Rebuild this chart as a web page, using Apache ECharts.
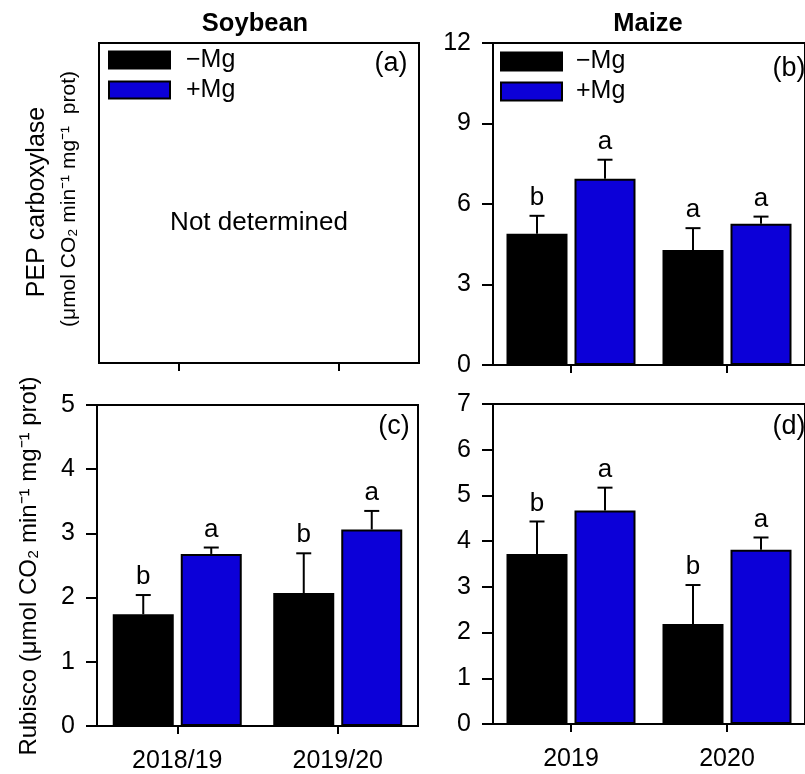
<!DOCTYPE html>
<html><head><meta charset="utf-8">
<script src="https://cdn.jsdelivr.net/npm/echarts@6/dist/echarts.min.js"></script>
<style>html,body{margin:0;padding:0;background:#fff}#c{width:805px;height:774px}</style>
</head><body><div id="c"></div>
<script>
// ---- data ----
const soyYears = ['2018/19', '2019/20'];
const maizeYears = ['2019', '2020'];
const seriesNames = ['\u2212Mg', '+Mg'];

// (b) Maize PEP carboxylase
const pepMaizeMinus = [4.89, 4.29];
const pepMaizeMinusSE = [0.67, 0.81];
const pepMaizeMinusLetters = ['b', 'a'];
const pepMaizePlus = [6.94, 5.26];
const pepMaizePlusSE = [0.71, 0.27];
const pepMaizePlusLetters = ['a', 'a'];

// (c) Soybean Rubisco
const rubSoyMinus = [1.74, 2.07];
const rubSoyMinusSE = [0.30, 0.62];
const rubSoyMinusLetters = ['b', 'b'];
const rubSoyPlus = [2.68, 3.06];
const rubSoyPlusSE = [0.10, 0.29];
const rubSoyPlusLetters = ['a', 'a'];

// (d) Maize Rubisco
const rubMaizeMinus = [3.72, 2.19];
const rubMaizeMinusSE = [0.71, 0.85];
const rubMaizeMinusLetters = ['b', 'b'];
const rubMaizePlus = [4.67, 3.81];
const rubMaizePlusSE = [0.50, 0.27];
const rubMaizePlusLetters = ['a', 'a'];

// axis ticks
const pepMaizeTicks = {min: 0, max: 12, interval: 3};
const rubSoyTicks = {min: 0, max: 5, interval: 1};
const rubMaizeTicks = {min: 0, max: 7, interval: 1};

// ---- style ----
const FONT = "'Liberation Sans', Arial, Helvetica, sans-serif";
const BLUE = '#0c00d8';
const BAR_W = 61;
const BAR_GAP = 7;
const OFFSET = (BAR_W + BAR_GAP) / 2;
const CAP = 15;

const chart = echarts.init(document.getElementById('c'), null, {renderer: 'canvas'});

const grids = [
  {left: 99, top: 43, width: 320, height: 320},
  {left: 493, top: 43, width: 320, height: 322},
  {left: 97, top: 405, width: 321, height: 321},
  {left: 493, top: 404, width: 320, height: 320}
].map(g => Object.assign({show: true, borderColor: '#000', borderWidth: 2, backgroundColor: 'transparent'}, g));

function xAxis(idx, data, showLabels) {
  return {
    type: 'category', gridIndex: idx, data: data,
    axisLine: {show: true, lineStyle: {color: '#000', width: 2}},
    axisTick: {show: true, alignWithLabel: true, length: 8, lineStyle: {color: '#000', width: 2}},
    axisLabel: {show: showLabels, color: '#000', fontSize: 25, fontFamily: FONT, margin: 23},
    splitLine: {show: false}
  };
}
function yAxis(idx, t, show) {
  return {
    type: 'value', gridIndex: idx, min: t.min, max: t.max, interval: t.interval,
    axisLine: {show: true, lineStyle: {color: '#000', width: 2}},
    axisTick: {show: show, length: 11, lineStyle: {color: '#000', width: 2}},
    axisLabel: {show: show, color: '#000', fontSize: 25, fontFamily: FONT, margin: 22},
    splitLine: {show: false}
  };
}

function barSeries(idx, name, data, color) {
  return {
    type: 'bar', name: name, xAxisIndex: idx, yAxisIndex: idx, data: data,
    barWidth: BAR_W, barGap: (BAR_GAP / BAR_W * 100) + '%',
    itemStyle: {color: color, borderColor: '#000', borderWidth: 2},
    emphasis: {disabled: true}, z: 2
  };
}
function errSeries(idx, means, ses, letters, side) {
  return {
    type: 'custom', xAxisIndex: idx, yAxisIndex: idx, clip: false, z: 5,
    data: means.map((m, i) => [i, m + ses[i]]),
    renderItem: function (params, api) {
      const i = params.dataIndex;
      const top = api.coord([i, means[i] + ses[i]]);
      const base = api.coord([i, means[i]]);
      const x = top[0] + side * OFFSET;
      return {type: 'group', children: [
        {type: 'line', shape: {x1: x, y1: base[1], x2: x, y2: top[1]}, style: {stroke: '#000', lineWidth: 2}},
        {type: 'line', shape: {x1: x - CAP / 2, y1: top[1], x2: x + CAP / 2, y2: top[1]}, style: {stroke: '#000', lineWidth: 2}},
        {type: 'text', x: x, y: top[1] - 18, style: {text: letters[i], fill: '#000', font: '26px ' + FONT, textAlign: 'center', textVerticalAlign: 'middle'}}
      ]};
    }
  };
}

function legend(left, top, pad, ih) {
  return {
    left: left, top: top, orient: 'vertical', data: seriesNames, padding: 0,
    icon: 'rect', itemWidth: 61, itemHeight: ih, itemGap: 5,
    selectedMode: false,
    itemStyle: {borderColor: '#000', borderWidth: 2},
    textStyle: {color: '#000', fontSize: 25, fontFamily: FONT, lineHeight: 24, padding: [0, 0, 0, pad]}
  };
}

function gtext(text, x, y, size, opts) {
  return Object.assign({
    type: 'text', x: x, y: y,
    style: {text: text, fill: '#000', font: size + 'px ' + FONT, textAlign: 'center', textVerticalAlign: 'middle'}
  }, opts || {});
}
function btext(text, x, y, size) {
  return {type: 'text', x: x, y: y,
    style: {text: text, fill: '#000', font: 'bold ' + size + 'px ' + FONT, textAlign: 'center', textVerticalAlign: 'middle'}};
}

const option = {
  backgroundColor: '#fff',
  animation: false,
  grid: grids,
  xAxis: [xAxis(0, soyYears, false), xAxis(1, maizeYears, false), xAxis(2, soyYears, true), xAxis(3, maizeYears, true)],
  yAxis: [yAxis(0, {min: 0, max: 1, interval: 1}, false), yAxis(1, pepMaizeTicks, true), yAxis(2, rubSoyTicks, true), yAxis(3, rubMaizeTicks, true)],
  legend: [legend(108, 47.5, 11, 17), legend(500, 49, 9, 18)],
  series: [
    barSeries(1, seriesNames[0], pepMaizeMinus, '#000'),
    barSeries(1, seriesNames[1], pepMaizePlus, BLUE),
    errSeries(1, pepMaizeMinus, pepMaizeMinusSE, pepMaizeMinusLetters, -1),
    errSeries(1, pepMaizePlus, pepMaizePlusSE, pepMaizePlusLetters, 1),
    barSeries(2, seriesNames[0], rubSoyMinus, '#000'),
    barSeries(2, seriesNames[1], rubSoyPlus, BLUE),
    errSeries(2, rubSoyMinus, rubSoyMinusSE, rubSoyMinusLetters, -1),
    errSeries(2, rubSoyPlus, rubSoyPlusSE, rubSoyPlusLetters, 1),
    barSeries(3, seriesNames[0], rubMaizeMinus, '#000'),
    barSeries(3, seriesNames[1], rubMaizePlus, BLUE),
    errSeries(3, rubMaizeMinus, rubMaizeMinusSE, rubMaizeMinusLetters, -1),
    errSeries(3, rubMaizePlus, rubMaizePlusSE, rubMaizePlusLetters, 1)
  ],
  graphic: [
    btext('Soybean', 255, 24, 25.5),
    btext('Maize', 648, 24, 25.5),
    gtext('Not determined', 259, 223, 26),
    gtext('(a)', 391, 64, 27),
    gtext('(b)', 789, 69, 27),
    gtext('(c)', 394, 427, 27),
    gtext('(d)', 789, 427, 27),
    gtext('PEP carboxylase', 37, 202, 25, {rotation: Math.PI / 2}),
    gtext('(\u03bcmol CO\u2082 min\u207b\u00b9 mg\u207b\u00b9  prot)', 69, 199, 21, {rotation: Math.PI / 2}),
    gtext('Rubisco (\u03bcmol CO\u2082 min\u207b\u00b9 mg\u207b\u00b9 prot)', 29, 566, 24, {rotation: Math.PI / 2})
  ]
};
chart.setOption(option);
</script>
</body></html>
